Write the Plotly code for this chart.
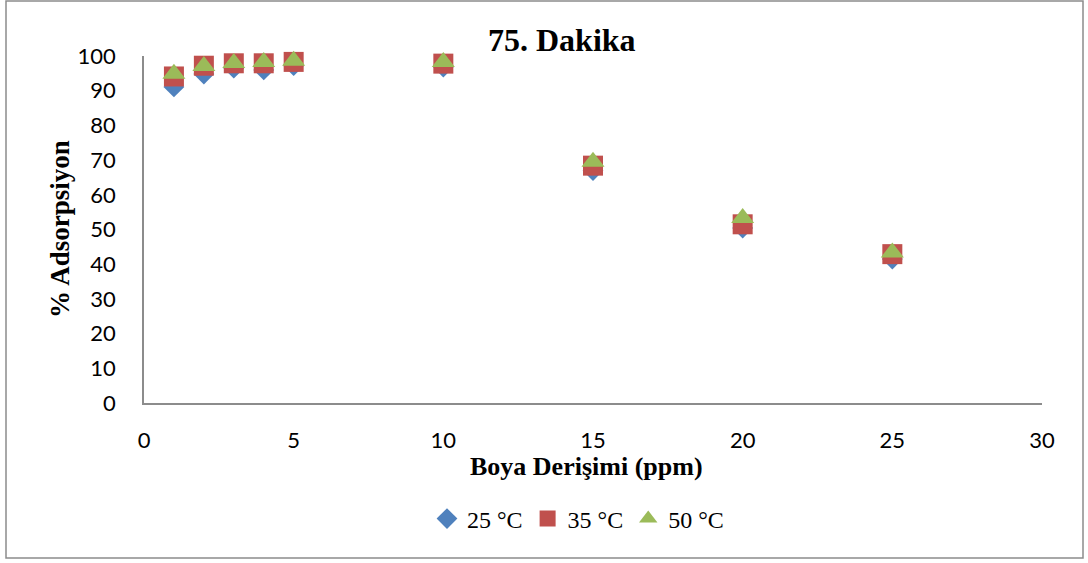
import plotly.graph_objects as go

x_ppm = [1, 2, 3, 4, 5, 10, 15, 20, 25]
s25 = [91.1, 94.8, 96.5, 96.0, 97.2, 96.8, 67.0, 50.4, 41.5]
s35 = [94.1, 97.2, 97.9, 97.9, 98.3, 97.8, 68.4, 51.5, 42.9]
s50 = [94.9, 97.1, 98.0, 98.3, 98.6, 98.3, 69.5, 53.3, 43.4]
names = ["25 °C", "35 °C", "50 °C"]
colors = ["#4F81BD", "#C0504D", "#9BBB59"]
symbols = ["diamond", "square", "triangle-up"]
sizes = [16, 20, 20]

fig = go.Figure()
for ys, nm, c, sy, sz in zip([s25, s35, s50], names, colors, symbols, sizes):
    fig.add_trace(go.Scatter(x=x_ppm, y=ys, mode="markers", name=nm, cliponaxis=False,
                             marker=dict(symbol=sy, size=sz, color=c, line=dict(width=0))))

W, H = 1088, 563
L, R, T, B = 144, 46, 56, 160
pw, ph = W - L - R, H - T - B

def px(xp):
    return (xp - L) / pw

def py(yp):
    return (H - B - yp) / ph

fig.update_layout(
    width=W, height=H,
    margin=dict(l=L, r=R, t=T, b=B),
    plot_bgcolor="white", paper_bgcolor="white",
    showlegend=True,
    legend=dict(orientation="h", x=px(578), xanchor="center", y=py(519), yanchor="middle",
                font=dict(family="Liberation Serif", size=24, color="black"),
                itemsizing="trace", itemwidth=30, tracegroupgap=0),
    xaxis=dict(range=[0, 30], tickvals=[0, 5, 10, 15, 20, 25, 30], showgrid=False,
               zeroline=False, showline=True, linecolor="#8C8C8C", linewidth=1.5,
               ticks="", ticklen=0, ticklabelstandoff=17,
               tickfont=dict(family="Lato", size=22, color="black")),
    yaxis=dict(range=[0, 100], tickvals=list(range(0, 101, 10)), showgrid=False,
               zeroline=False, showline=True, linecolor="#8C8C8C", linewidth=1.5,
               ticks="", ticklen=0, ticklabelstandoff=22,
               tickfont=dict(family="Lato", size=22, color="black")),
    annotations=[
        dict(text="<b>75. Dakika</b>", xref="paper", yref="paper", x=px(562), y=py(40),
             xanchor="center", yanchor="middle", showarrow=False,
             font=dict(family="Liberation Serif", size=32, color="black")),
        dict(text="<b>Boya Derişimi (ppm)</b>", xref="paper", yref="paper", x=px(586), y=py(467),
             xanchor="center", yanchor="middle", showarrow=False,
             font=dict(family="Liberation Serif", size=26, color="black")),
        dict(text="<b>% Adsorpsiyon</b>", xref="paper", yref="paper", x=px(60), y=py(229),
             xanchor="center", yanchor="middle", showarrow=False, textangle=-90,
             font=dict(family="Liberation Serif", size=27, color="black")),
    ],
    shapes=[dict(type="rect", xref="paper", yref="paper",
                 x0=px(6), x1=px(1083), y0=py(1), y1=py(558),
                 line=dict(color="#8C8C8C", width=1.5), fillcolor="rgba(0,0,0,0)", layer="below")],
)

fig.write_html("out.html")
